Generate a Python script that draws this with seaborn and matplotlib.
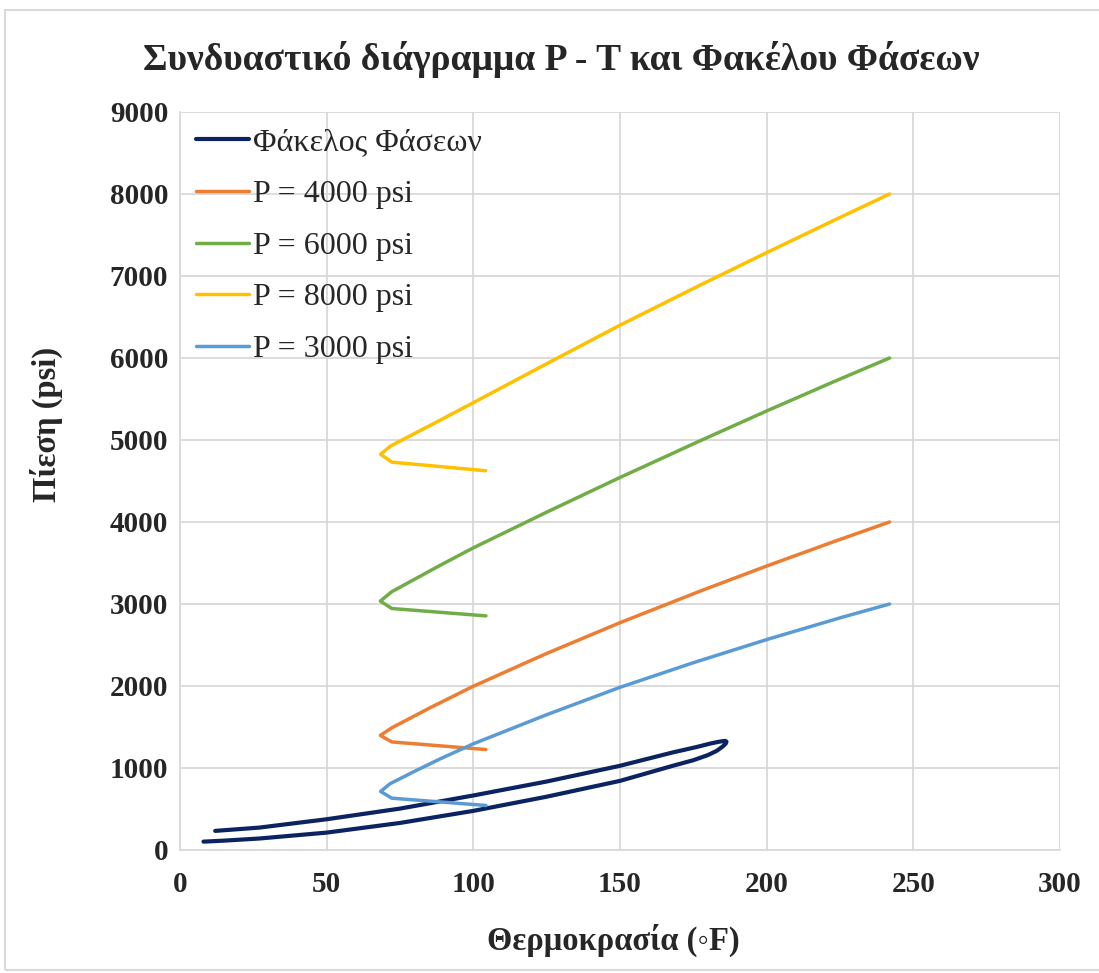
import matplotlib
matplotlib.use("Agg")
import matplotlib.pyplot as plt
import seaborn as sns
import pandas as pd
from matplotlib.patches import Rectangle

# ---- data ----
env_T = [8, 15, 27, 50, 75, 100, 125, 150, 168, 175, 180, 183, 185, 186.1, 186.3,
         185.8, 184, 181, 176, 168, 150, 125, 100, 75, 50, 27, 12]
env_P = [102, 114, 140, 212, 330, 477, 650, 843, 1027, 1095, 1158, 1210, 1262, 1300, 1322,
         1331, 1322, 1300, 1255, 1190, 1027, 835, 665, 505, 375, 273, 233]

p3000_T = [104.3, 72.2, 68.4, 71.6, 80, 88.6, 100, 125, 150, 175, 200, 225, 241.9]
p3000_P = [543, 632, 714, 808, 960, 1110, 1295, 1650, 1984, 2284, 2566, 2831, 3000]

p4000_T = [104.3, 72.2, 68.3, 72.2, 85, 100, 125, 150, 177.4, 200, 223, 241.9]
p4000_P = [1225, 1318, 1397, 1490, 1730, 1997, 2397, 2772, 3158, 3463, 3762, 4000]

p6000_T = [104.3, 72.2, 68.3, 72.2, 88.6, 100, 125, 150, 177.4, 200, 223, 241.9]
p6000_P = [2855, 2945, 3035, 3150, 3470, 3685, 4120, 4543, 4992, 5354, 5713, 6000]

p8000_T = [104.2, 72.2, 68.4, 71.8, 88.6, 100, 125, 150, 177.4, 200, 223, 241.9]
p8000_P = [4625, 4730, 4826, 4927, 5240, 5455, 5930, 6400, 6890, 7285, 7680, 8000]

series = [
    ("Φάκελος Φάσεων", env_T, env_P, "#0B2461", 3.0),
    ("P = 4000 psi", p4000_T, p4000_P, "#ED7D31", 2.5),
    ("P = 6000 psi", p6000_T, p6000_P, "#70AD47", 2.5),
    ("P = 8000 psi", p8000_T, p8000_P, "#FFC000", 2.5),
    ("P = 3000 psi", p3000_T, p3000_P, "#5B9BD5", 2.5),
]

title = "Συνδυαστικό διάγραμμα P - T και Φακέλου Φάσεων"
xlabel = "Θερμοκρασία (◦F)"
ylabel = "Πίεση (psi)"
xticks = [0, 50, 100, 150, 200, 250, 300]
yticks = [0, 1000, 2000, 3000, 4000, 5000, 6000, 7000, 8000, 9000]

# ---- style ----
sns.set_style("white")
plt.rcParams['font.family'] = ['Liberation Serif', 'DejaVu Serif']

fig = plt.figure(figsize=(10.99, 9.73), dpi=100)
ax = fig.add_axes([180/1099, 1 - 850/973, 880/1099, 738/973])

for name, T, P, col, lw in series:
    df = pd.DataFrame({"T": T, "P": P})
    sns.lineplot(data=df, x="T", y="P", sort=False, estimator=None,
                 color=col, linewidth=lw, label=name, ax=ax,
                 solid_joinstyle="round", solid_capstyle="round")

ax.set_xlim(0, 300)
ax.set_ylim(0, 9000)
ax.set_xticks(xticks)
ax.set_yticks(yticks)
ax.grid(True, color="#D9D9D9", linewidth=1.3)
ax.set_axisbelow(True)
for s in ["top", "right"]:
    ax.spines[s].set_visible(False)
for s in ["left", "bottom"]:
    ax.spines[s].set_color("#D9D9D9")
    ax.spines[s].set_linewidth(1.3)
ax.tick_params(axis="both", length=0, labelsize=21)
ax.tick_params(axis="x", pad=15)
ax.tick_params(axis="y", pad=8.5)
for lab in ax.get_xticklabels() + ax.get_yticklabels():
    lab.set_fontweight("bold")

ax.set_xlabel(xlabel, fontsize=23.5, fontweight="bold")
ax.set_ylabel(ylabel, fontsize=23.5, fontweight="bold")
ax.xaxis.set_label_coords(0.492, -0.100)
ax.yaxis.set_label_coords(-0.133, 0.576)

fig.text(0.511, 0.939, title, ha="center", va="center",
         fontsize=27, fontweight="bold")

leg = ax.legend(loc="upper left", bbox_to_anchor=(0.0, 1.0), frameon=False,
                fontsize=23, handlelength=1.66, handletextpad=0.12,
                labelspacing=0.7, borderaxespad=0.3, borderpad=0.2)

fig.patches.append(Rectangle((5/1099, 1 - 970/973), 1, 960/973,
                             transform=fig.transFigure, fill=False,
                             edgecolor="#D9D9D9", linewidth=1.5))

fig.savefig("out.png", dpi=100)
